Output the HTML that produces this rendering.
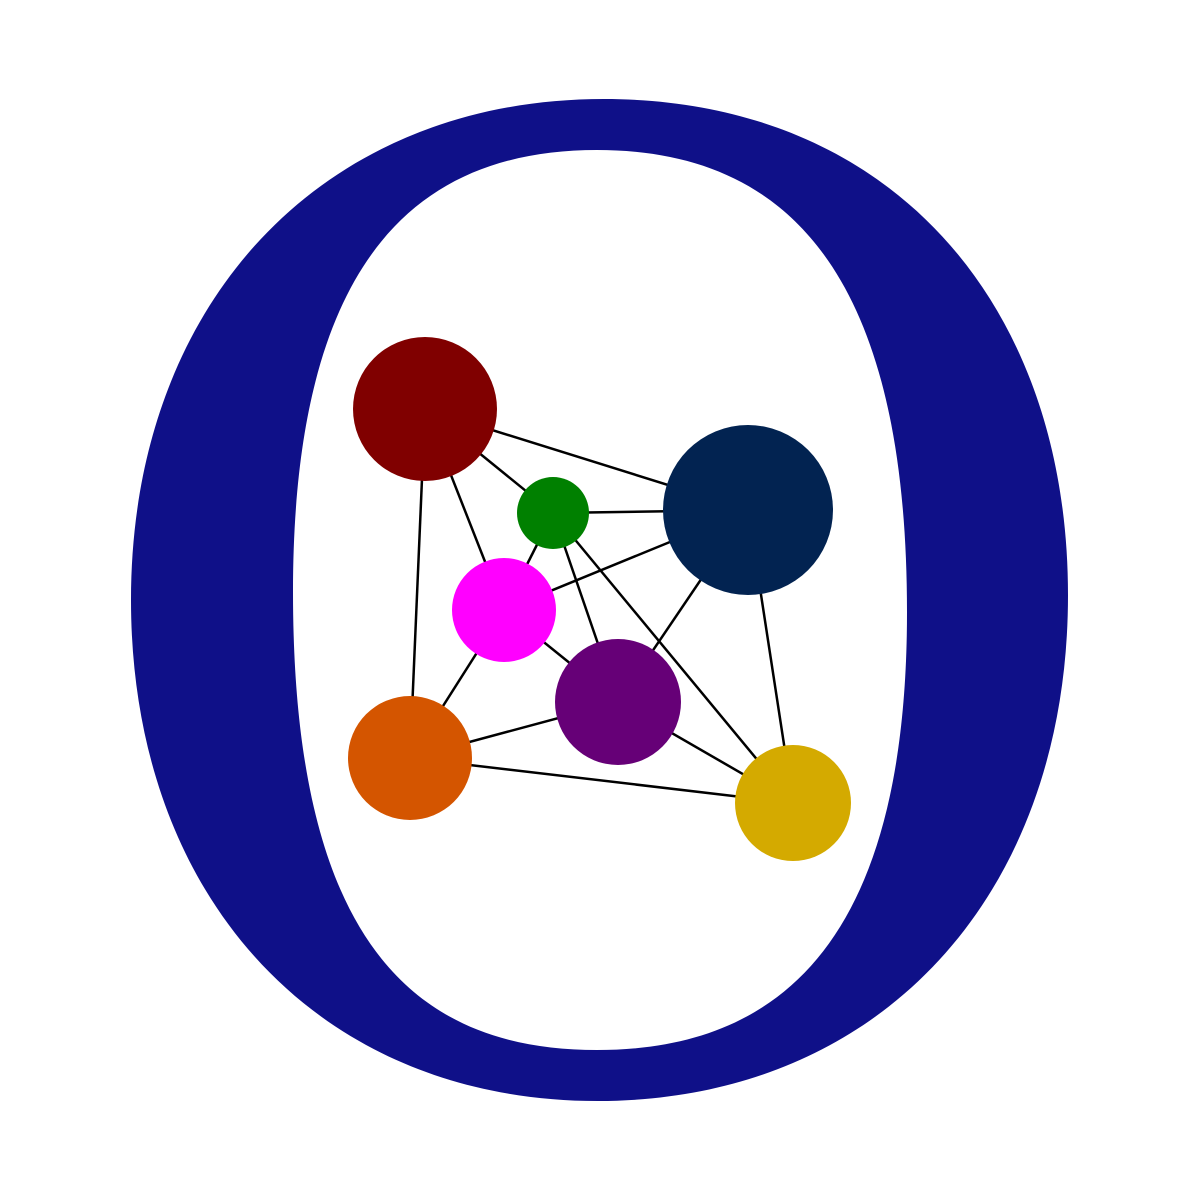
<!DOCTYPE html>
<html>
<head>
<meta charset="utf-8">
<style>
  html, body { margin: 0; padding: 0; background: #ffffff; }
  svg { display: block; }
</style>
</head>
<body>
<svg id="chart" width="1200" height="1200" viewBox="0 0 1200 1200" xmlns="http://www.w3.org/2000/svg">
  <rect width="1200" height="1200" fill="#ffffff"/>
  <path fill="#0f1088" fill-rule="evenodd"
    d="M 604 99 C 892 99, 1068 305, 1068 595 C 1068 895, 880 1101, 598 1101 C 316 1101, 131 895, 131 600 C 131 305, 320 99, 604 99 Z
       M 597 150 C 785 150, 907 270, 907 612 C 907 935, 785 1050, 597 1050 C 409 1050, 293 935, 293 592 C 293 270, 409 150, 597 150 Z"/>
  <g id="edges"></g>
  <g id="nodes"></g>
</svg>
<script>
const nodeNames = ["maroon", "green", "navy", "magenta", "purple", "orange", "gold"];
const nodeX = [425, 553, 748, 504, 618, 410, 793];
const nodeY = [409, 513, 510, 610, 702, 758, 803];
const nodeR = [72, 36, 85, 52, 63, 62, 58];
const nodeColors = ["#800000", "#008000", "#022351", "#ff00ff", "#660077", "#d45500", "#d4aa00"];
const edgeFrom = [0, 0, 0, 0, 1, 1, 1, 1, 2, 2, 2, 3, 3, 5, 5, 4];
const edgeTo   = [2, 1, 3, 5, 2, 3, 4, 6, 3, 4, 6, 4, 5, 4, 6, 6];

const NS = "http://www.w3.org/2000/svg";
const eg = document.getElementById("edges");
const ng = document.getElementById("nodes");
for (let i = 0; i < edgeFrom.length; i++) {
  const a = edgeFrom[i], b = edgeTo[i];
  const l = document.createElementNS(NS, "line");
  l.setAttribute("x1", nodeX[a]); l.setAttribute("y1", nodeY[a]);
  l.setAttribute("x2", nodeX[b]); l.setAttribute("y2", nodeY[b]);
  l.setAttribute("stroke", "#000"); l.setAttribute("stroke-width", "2.5");
  
  
  eg.appendChild(l);
}
for (let i = 0; i < nodeX.length; i++) {
  const c = document.createElementNS(NS, "circle");
  c.setAttribute("cx", nodeX[i]); c.setAttribute("cy", nodeY[i]);
  c.setAttribute("r", nodeR[i]); c.setAttribute("fill", nodeColors[i]);
  
  
  ng.appendChild(c);
}
</script>
</body>
</html>
